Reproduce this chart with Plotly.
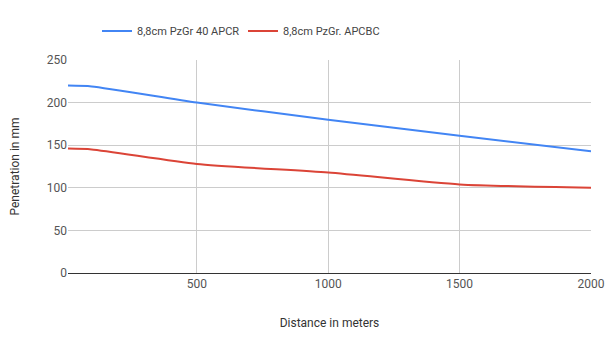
import plotly.graph_objects as go

distance = [10, 100, 500, 1000, 1500, 2000]
apcr = [220, 219, 200, 180, 161, 143]
apcbc = [146, 145, 128, 118, 104, 100]
series_names = ["8,8cm PzGr 40 APCR", "8,8cm PzGr. APCBC"]

fig = go.Figure()
fig.add_trace(go.Scatter(x=distance, y=apcr, mode="lines", name=series_names[0],
                         line=dict(color="#4285f4", width=2, shape="spline", smoothing=0.6)))
fig.add_trace(go.Scatter(x=distance, y=apcbc, mode="lines", name=series_names[1],
                         line=dict(color="#db4437", width=2, shape="spline", smoothing=0.6)))

fig.update_layout(
    width=612, height=351,
    margin=dict(l=68, r=21, t=60, b=78),
    paper_bgcolor="white", plot_bgcolor="white",
    font=dict(family="Roboto", size=12, color="#444444"),
    legend=dict(orientation="h", x=97/612, xanchor="left", xref="container",
                y=0.912, yanchor="middle", yref="container",
                entrywidth=101, entrywidthmode="pixels",
                font=dict(size=11, color="#444444")),
    showlegend=True,
)
fig.update_xaxes(range=[10, 2000], tickvals=[500, 1000, 1500, 2000], automargin=False,
                 showgrid=True, gridcolor="#cccccc", gridwidth=1,
                 zeroline=False, showline=True, linecolor="#333333", linewidth=1,
                 ticks="", tickfont=dict(size=12, color="#555555"),
                 title=dict(text="Distance in meters", font=dict(size=12, color="#333333"), standoff=28))
fig.update_yaxes(range=[0, 250], tickvals=[0, 50, 100, 150, 200, 250], automargin=False,
                 showgrid=True, gridcolor="#cccccc", gridwidth=1,
                 zeroline=False, showline=False, ticks="",
                 tickfont=dict(size=12, color="#555555"),
                 title=dict(text="Penetration in mm", font=dict(size=12, color="#333333"), standoff=24))

fig.write_html("out.html")
